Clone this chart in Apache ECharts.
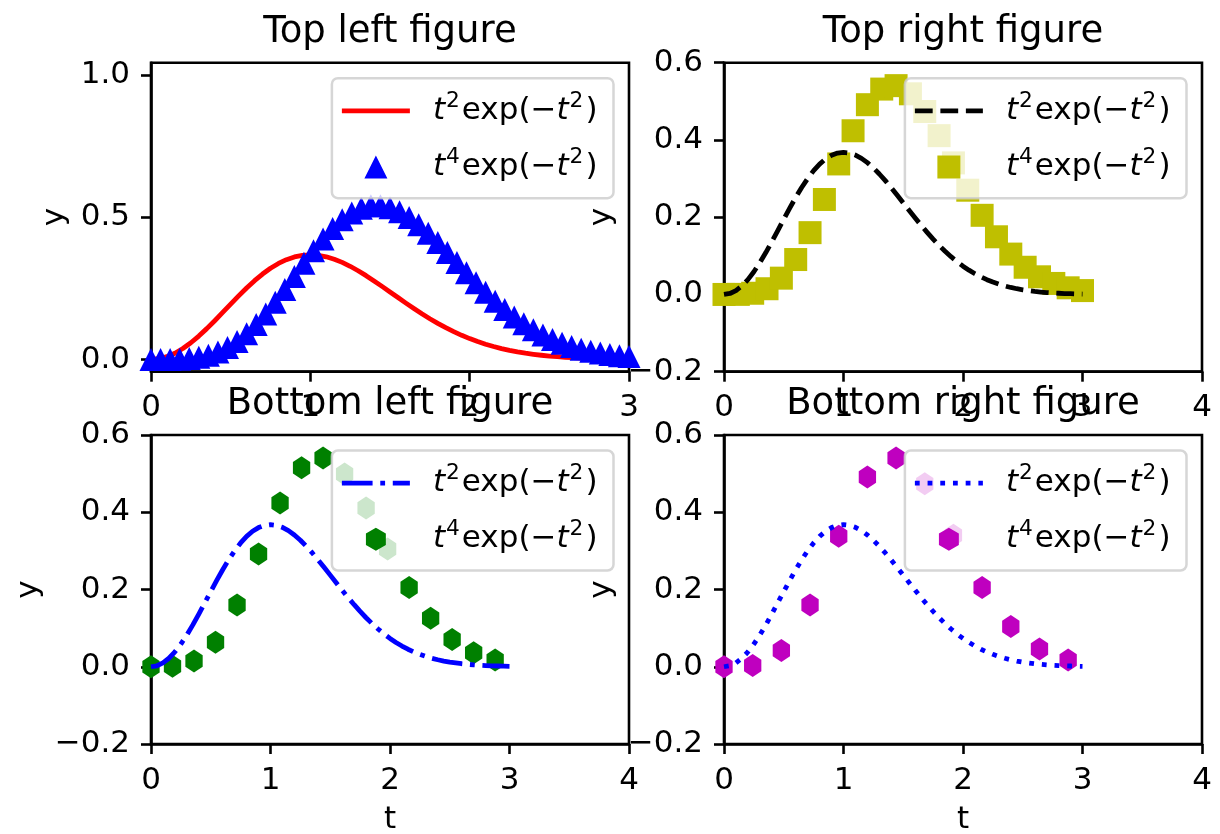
<!DOCTYPE html>
<html>
<head>
<meta charset="utf-8">
<script src="https://cdn.jsdelivr.net/npm/echarts@6/dist/echarts.min.js"></script>
<style>
  html, body { margin: 0; padding: 0; background: #ffffff; }
  #chart { width: 1220px; height: 834px; }
</style>
</head>
<body>
<div id="chart"></div>
<script>
// ---- data -------------------------------------------------------------
// smooth curve t^2 exp(-t^2), sampled every 0.05
const tLine = [0, 0.05, 0.1, 0.15, 0.2, 0.25, 0.3, 0.35, 0.4, 0.45, 0.5, 0.55, 0.6, 0.65, 0.7, 0.75,
  0.8, 0.85, 0.9, 0.95, 1.0, 1.05, 1.1, 1.15, 1.2, 1.25, 1.3, 1.35, 1.4, 1.45, 1.5, 1.55, 1.6, 1.65,
  1.7, 1.75, 1.8, 1.85, 1.9, 1.95, 2.0, 2.05, 2.1, 2.15, 2.2, 2.25, 2.3, 2.35, 2.4, 2.45, 2.5, 2.55,
  2.6, 2.65, 2.7, 2.75, 2.8, 2.85, 2.9, 2.95, 3.0];
const f2Line = [0, 0.0025, 0.0099, 0.0220, 0.0384, 0.0587, 0.0823, 0.1084, 0.1363, 0.1654, 0.1947,
  0.2235, 0.2512, 0.2769, 0.3002, 0.3205, 0.3375, 0.3508, 0.3603, 0.3660, 0.3679, 0.3661, 0.3608,
  0.3524, 0.3412, 0.3275, 0.3118, 0.2946, 0.2761, 0.2568, 0.2372, 0.2175, 0.1979, 0.1789, 0.1606,
  0.1432, 0.1269, 0.1117, 0.0977, 0.0849, 0.0733, 0.0629, 0.0536, 0.0454, 0.0383, 0.0321, 0.0267,
  0.0220, 0.0181, 0.0148, 0.0121, 0.0098, 0.0078, 0.0063, 0.0050, 0.0039, 0.0031, 0.0024, 0.0019,
  0.0014, 0.0011];

// t^4 exp(-t^2) markers, top left (step 0.06)
const tTri = [0, 0.06, 0.12, 0.18, 0.24, 0.3, 0.36, 0.42, 0.48, 0.54, 0.6, 0.66, 0.72, 0.78, 0.84,
  0.9, 0.96, 1.02, 1.08, 1.14, 1.2, 1.26, 1.32, 1.38, 1.44, 1.5, 1.56, 1.62, 1.68, 1.74, 1.8, 1.86,
  1.92, 1.98, 2.04, 2.1, 2.16, 2.22, 2.28, 2.34, 2.4, 2.46, 2.52, 2.58, 2.64, 2.7, 2.76, 2.82, 2.88,
  2.94, 3.0];
const f4Tri = [0, 0.0000, 0.0002, 0.0010, 0.0031, 0.0074, 0.0148, 0.0261, 0.0422, 0.0635, 0.0904,
  0.1227, 0.1600, 0.2015, 0.2459, 0.2919, 0.3379, 0.3824, 0.4238, 0.4605, 0.4913, 0.5152, 0.5317,
  0.5401, 0.5406, 0.5336, 0.5195, 0.4992, 0.4737, 0.4439, 0.4111, 0.3763, 0.3406, 0.3048, 0.2699,
  0.2365, 0.2049, 0.1758, 0.1493, 0.1256, 0.1045, 0.0862, 0.0704, 0.0570, 0.0457, 0.0363, 0.0285,
  0.0223, 0.0172, 0.0132, 0.0100];

// top right squares (step 0.12)
const tSq = [0, 0.12, 0.24, 0.36, 0.48, 0.6, 0.72, 0.84, 0.96, 1.08, 1.2, 1.32, 1.44, 1.56, 1.68,
  1.8, 1.92, 2.04, 2.16, 2.28, 2.4, 2.52, 2.64, 2.76, 2.88, 3.0];
const f4Sq = [0, 0.0002, 0.0031, 0.0148, 0.0422, 0.0904, 0.1600, 0.2459, 0.3379, 0.4238, 0.4913,
  0.5317, 0.5406, 0.5195, 0.4737, 0.4111, 0.3406, 0.2699, 0.2049, 0.1493, 0.1045, 0.0704, 0.0457,
  0.0285, 0.0172, 0.0100];

// bottom left hexagons (step 0.18)
const tHexG = [0, 0.18, 0.36, 0.54, 0.72, 0.9, 1.08, 1.26, 1.44, 1.62, 1.8, 1.98, 2.16, 2.34, 2.52,
  2.7, 2.88];
const f4HexG = [0, 0.0010, 0.0148, 0.0635, 0.1600, 0.2919, 0.4238, 0.5152, 0.5406, 0.4992, 0.4111,
  0.3048, 0.2049, 0.1256, 0.0704, 0.0363, 0.0172];

// bottom right hexagons (step 0.24)
const tHexM = [0, 0.24, 0.48, 0.72, 0.96, 1.2, 1.44, 1.68, 1.92, 2.16, 2.4, 2.64, 2.88];
const f4HexM = [0, 0.0031, 0.0422, 0.1600, 0.3379, 0.4913, 0.5406, 0.4737, 0.3406, 0.2049, 0.1045,
  0.0457, 0.0172];

// tick labels
const ticksX3 = [0, 1, 2, 3];
const ticksX4 = [0, 1, 2, 3, 4];
const ticksYTop = [0, 0.5, 1.0];
const ticksY = [-0.2, 0, 0.2, 0.4, 0.6];

const panelTitles = ['Top left figure', 'Top right figure', 'Bottom left figure', 'Bottom right figure'];

// ---- layout & style ---------------------------------------------------
const W = 1220;
const FONT = 'DejaVu Sans';
const colLeft = [151, 724];
const colW = 478;
const rowTop = [62.7, 435];
const rowH = 309;
const LW = 4.8;           // line width
const SPINE = 2.6;        // spine / tick width
const TICK_FONT = 31;

const hexPath = 'path://M0,-1L0.866,-0.5L0.866,0.5L0,1L-0.866,0.5L-0.866,-0.5Z';

const panels = [
  { row: 0, col: 0, xMax: 3, xTicks: ticksX3, yMin: -0.043, yMax: 1.043, yTicks: ticksYTop, yGap: 81, xName: '',
    lineColor: '#ff0000', dash: null, lineZ: 2,
    mt: tTri, my: f4Tri, symbol: 'triangle', size: 23, markColor: '#0000ff', markZ: 3, icon: 'tri' },
  { row: 0, col: 1, xMax: 4, xTicks: ticksX4, yMin: -0.2, yMax: 0.6, yTicks: ticksY, yGap: 107, xName: '',
    lineColor: '#000000', dash: [17.8, 7.7], lineZ: 3,
    mt: tSq, my: f4Sq, symbol: 'rect', size: 23, markColor: '#bfbf00', markZ: 2, icon: 'sq' },
  { row: 1, col: 0, xMax: 4, xTicks: ticksX4, yMin: -0.2, yMax: 0.6, yTicks: ticksY, yGap: 107, xName: 't',
    lineColor: '#0000ff', dash: [30.7, 7.7, 4.8, 7.7], lineZ: 3,
    mt: tHexG, my: f4HexG, symbol: hexPath, size: [20, 23], markColor: '#008000', markZ: 2, icon: 'hex' },
  { row: 1, col: 1, xMax: 4, xTicks: ticksX4, yMin: -0.2, yMax: 0.6, yTicks: ticksY, yGap: 107, xName: 't',
    lineColor: '#0000ff', dash: [4.8, 7.9], lineZ: 3,
    mt: tHexM, my: f4HexM, symbol: hexPath, size: [20, 23], markColor: '#bf00bf', markZ: 2, icon: 'hex' }
];

// legend handle drawings: box 86 x 23, handle area 0..68, centred at (34, 11.5)
const ICON_W = 86, ICON_H = 23, HANDLE = 68, CY = 11.5;
const corners = 'M0,0h0.01v0.01h-0.01Z M85.99,22.99h0.01v0.01h-0.01Z ';
function rectPath(x0, x1, y0, y1) {
  return 'M' + x0 + ',' + y0 + 'H' + x1 + 'V' + y1 + 'H' + x0 + 'Z ';
}
function lineIcon(pattern) {
  const y0 = CY - LW / 2, y1 = CY + LW / 2;
  let p = corners;
  if (!pattern) return 'path://' + p + rectPath(0, HANDLE, y0, y1);
  let x = 0, i = 0;
  while (x < HANDLE) {
    const len = pattern[i % pattern.length];
    if (i % 2 === 0) p += rectPath(x.toFixed(2), Math.min(x + len, HANDLE).toFixed(2), y0, y1);
    x += len; i++;
  }
  return 'path://' + p;
}
function markIcon(kind) {
  let p = corners;
  if (kind === 'tri') p += 'M22.5,23L34,0L45.5,23Z';
  else if (kind === 'sq') p += 'M22.5,0H45.5V23H22.5Z';
  else p += 'M34,0L43.96,5.75L43.96,17.25L34,23L24.04,17.25L24.04,5.75Z';
  return 'path://' + p;
}

const legendLabel = {
  f2: '{it|t}{sup|2}{rm|exp(\u2212}{it|t}{sup|2}{rm|)}',
  f4: '{it|t}{sup|4}{rm|exp(\u2212}{it|t}{sup|2}{rm|)}'
};

const fmtY = v => v.toFixed(1).replace('-', '\u2212');

const grid = [], xAxis = [], yAxis = [], series = [], legend = [], title = [];

panels.forEach((p, k) => {
  const left = colLeft[p.col], top = rowTop[p.row];
  grid.push({ left: left, top: top, width: colW, height: rowH, show: true,
    borderColor: '#000', borderWidth: SPINE, backgroundColor: 'transparent',
    containLabel: false, outerBoundsMode: 'none' });

  title.push({ text: panelTitles[k], left: left + colW / 2, top: 14 + p.row * (rowTop[1] - rowTop[0]),
    textAlign: 'center', textVerticalAlign: 'top', padding: 0,
    textStyle: { fontFamily: FONT, fontSize: 37, fontWeight: 'normal', color: '#000' } });

  xAxis.push({ type: 'value', gridIndex: k, min: 0, max: p.xMax,
    name: p.xName, nameLocation: 'middle', nameGap: 60,
    nameTextStyle: { fontFamily: FONT, fontSize: TICK_FONT, color: '#000' },
    axisLine: { show: true, onZero: false, lineStyle: { color: '#000', width: SPINE } },
    axisTick: { show: true, inside: false, length: 10, customValues: p.xTicks,
      lineStyle: { color: '#000', width: SPINE } },
    axisLabel: { show: true, customValues: p.xTicks, margin: 21, showMinLabel: true, showMaxLabel: true,
      fontFamily: FONT, fontSize: TICK_FONT, color: '#000', formatter: v => String(v) },
    splitLine: { show: false } });

  yAxis.push({ type: 'value', gridIndex: k, min: p.yMin, max: p.yMax,
    name: 'y', nameLocation: 'middle', nameGap: p.yGap, nameRotate: 90,
    nameTextStyle: { fontFamily: FONT, fontSize: TICK_FONT, color: '#000' },
    axisLine: { show: true, onZero: false, lineStyle: { color: '#000', width: SPINE } },
    axisTick: { show: true, inside: false, length: 10, customValues: p.yTicks,
      lineStyle: { color: '#000', width: SPINE } },
    axisLabel: { show: true, customValues: p.yTicks, margin: 21, showMinLabel: true, showMaxLabel: true,
      fontFamily: FONT, fontSize: TICK_FONT, color: '#000', formatter: fmtY },
    splitLine: { show: false } });

  const lineName = 'p' + k + '-f2', markName = 'p' + k + '-f4';
  series.push({ name: lineName, type: 'line', xAxisIndex: k, yAxisIndex: k,
    data: tLine.map((t, i) => [t, f2Line[i]]),
    showSymbol: false, symbol: 'none', smooth: false, clip: true, silent: true, z: p.lineZ,
    itemStyle: { color: p.lineColor },
    lineStyle: { color: p.lineColor, width: LW, type: p.dash || 'solid', cap: 'butt', join: 'round' } });
  series.push({ name: markName, type: 'scatter', xAxisIndex: k, yAxisIndex: k,
    data: p.mt.map((t, i) => [t, p.my[i]]),
    symbol: p.symbol, symbolSize: p.size, symbolKeepAspect: true, clip: true, silent: true, z: p.markZ,
    itemStyle: { color: p.markColor, opacity: 1, borderWidth: 0 } });

  legend.push({ orient: 'vertical', right: W - (left + colW - 15.5), top: top + 15.5,
    itemWidth: ICON_W, itemHeight: ICON_H, itemGap: 14, padding: [11.7, 16, 10.3, 10],
    backgroundColor: 'rgba(255,255,255,0.8)', borderColor: 'rgba(204,204,204,0.8)',
    borderWidth: 2.5, borderRadius: 6, selectedMode: false, z: 10,
    itemStyle: { borderWidth: 0 },
    data: [
      { name: lineName, icon: lineIcon(p.dash), itemStyle: { color: p.lineColor, borderWidth: 0 } },
      { name: markName, icon: markIcon(p.icon), itemStyle: { color: p.markColor, borderWidth: 0, opacity: 1 } }
    ],
    formatter: name => (name.endsWith('f2') ? legendLabel.f2 : legendLabel.f4),
    textStyle: { fontFamily: FONT, fontSize: TICK_FONT, color: '#000', lineHeight: 23,
      rich: {
        it: { fontFamily: FONT, fontStyle: 'italic', fontSize: TICK_FONT, lineHeight: 23, color: '#000' },
        rm: { fontFamily: FONT, fontSize: TICK_FONT, lineHeight: 23, color: '#000' },
        sup: { fontFamily: FONT, fontSize: 21.7, lineHeight: 3, padding: [0, 2, 20, 1], color: '#000' }
      } } });
});

const chart = echarts.init(document.getElementById('chart'), null, { renderer: 'canvas', width: 1220, height: 834 });
chart.setOption({
  animation: false,
  backgroundColor: '#ffffff',
  title: title,
  legend: legend,
  grid: grid,
  xAxis: xAxis,
  yAxis: yAxis,
  series: series
});
</script>
</body>
</html>
